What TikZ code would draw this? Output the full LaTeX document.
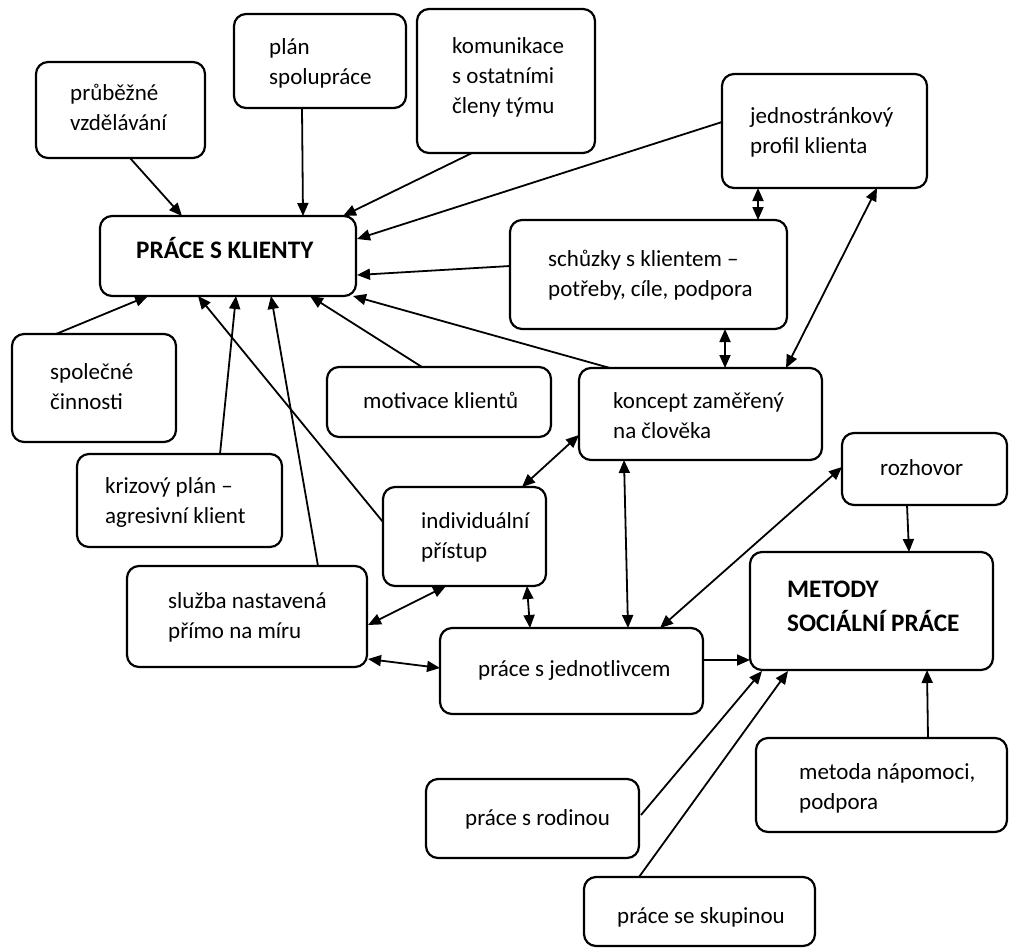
\documentclass[tikz,border=0pt]{standalone}
\usepackage{fontspec}
\setmainfont{Carlito}
\usetikzlibrary{arrows.meta,calc}
\newcommand{\mylines}[1]{\begin{tabular}[t]{@{}l@{}}#1\end{tabular}}
\begin{document}
\begin{tikzpicture}[x=1pt,y=-1pt,
  box/.style n args={2}{draw, line width=2.2pt, rounded corners=12pt, anchor=north west,
     minimum width=#1, minimum height=#2, inner sep=0pt, outer sep=0pt},
  txt/.style={anchor=base west, inner sep=0pt, font=\fontsize{23}{30}\selectfont},
  btxt/.style={anchor=base west, inner sep=0pt, font=\fontsize{25.2}{34}\selectfont\bfseries},
  arr/.style={line width=1.8pt, -{Triangle[length=13pt,width=11pt]}},
  darr/.style={line width=1.8pt, {Triangle[length=13pt,width=11pt]}-{Triangle[length=13pt,width=11pt]}}]
\fill[white] (0,0) rectangle (1011,951);
\useasboundingbox (0,0) rectangle (1011,951);

% boxes
\node[box={169pt}{96pt}]  (pv)  at (36,62) {};
\node[box={172pt}{94pt}]  (ps)  at (234,14) {};
\node[box={178pt}{144pt}] (ko)  at (417,9) {};
\node[box={256pt}{80pt}]  (pk)  at (100,216) {};
\node[box={205pt}{114pt}] (jp)  at (722,74) {};
\node[box={277pt}{109pt}] (sch) at (510,220) {};
\node[box={243pt}{92pt}]  (kc)  at (579,368) {};
\node[box={165pt}{72pt}]  (rz)  at (842,433) {};
\node[box={164pt}{108pt}] (sc)  at (12,334) {};
\node[box={224pt}{70pt}]  (mk)  at (327,367) {};
\node[box={205pt}{93pt}]  (kp)  at (77,454) {};
\node[box={163pt}{99pt}]  (ip)  at (383,487) {};
\node[box={240pt}{101pt}] (sl)  at (127,566) {};
\node[box={263pt}{86pt}]  (pj)  at (440,628) {};
\node[box={243pt}{118pt}] (me)  at (750,552) {};
\node[box={251pt}{94pt}]  (mn)  at (756,738) {};
\node[box={213pt}{79pt}]  (rd)  at (426,779) {};
\node[box={231pt}{69pt}]  (sk)  at (584,877) {};

% texts
\node[txt] (pvt)  at (70,100)  {\mylines{průběžné\\vzdělávání}};
\node[txt] (pst)  at (269,54)  {\mylines{plán\\spolupráce}};
\node[txt] (kot)  at (452,53)  {\mylines{komunikace\\s ostatními\\členy týmu}};
\node[btxt] (pkt) at (136,258) {PRÁCE S KLIENTY};
\node[txt] (jpt)  at (750,123) {\mylines{jednostránkový\\profil klienta}};
\node[txt] (scht) at (548,266) {\mylines{schůzky s klientem –\\potřeby, cíle, podpora}};
\node[txt] (kct)  at (613,408) {\mylines{koncept zaměřený\\na člověka}};
\node[txt] (rzt)  at (880,475) {rozhovor};
\node[txt] (sct)  at (50,379)  {\mylines{společné\\činnosti}};
\node[txt] (mkt)  at (363,408) {motivace klientů};
\node[txt] (kpt)  at (105,493) {\mylines{krizový plán –\\agresivní klient}};
\node[txt] (ipt)  at (421,528) {\mylines{individuální\\přístup}};
\node[txt] (slt)  at (168,608) {\mylines{služba nastavená\\přímo na míru}};
\node[txt] (pjt)  at (478,676) {práce s jednotlivcem};
\node[btxt] (met) at (787,597) {\mylines{METODY\\SOCIÁLNÍ PRÁCE}};
\node[txt] (mnt)  at (799,779) {\mylines{metoda nápomoci,\\podpora}};
\node[txt] (rdt)  at (465,825) {práce s rodinou};
\node[txt] (skt)  at (617,923) {práce se skupinou};

% connectors to PRACE S KLIENTY
\draw[arr] ($(pv.south west)+(94,0)$) -- ($(pk.north west)+(82,0)$);
\draw[arr] ($(ps.south west)+(68,0)$) -- ($(pk.north west)+(203,0)$);
\draw[arr] ($(ko.south west)+(55,0)$) -- ($(pk.north west)+(243,0)$);
\draw[arr] ($(jp.north west)+(0,48)$) -- ($(pk.north east)+(1,23)$);
\draw[arr] ($(sch.north west)+(0,46)$) -- ($(pk.north east)+(1,59)$);
\draw[arr] ($(kc.north west)+(31,0)$) -- ($(pk.south east)+(-3,0)$);
\draw[arr] ($(sc.north west)+(44,0)$) -- ($(pk.south west)+(48,0)$);
\draw[arr] ($(ip.north west)+(0,35)$) -- ($(pk.south west)+(98,0)$);
\draw[arr] ($(kp.north west)+(143,0)$) -- ($(pk.south west)+(136,0)$);
\draw[arr] ($(sl.north west)+(191,0)$) -- ($(pk.south west)+(171,0)$);
\draw[arr] ($(mk.north west)+(95,0)$) -- ($(pk.south west)+(210,0)$);

% double connectors
\draw[darr] ($(jp.south west)+(36,0)$) -- ($(sch.north west)+(248,0)$);
\draw[darr] ($(jp.south west)+(155,0)$) -- ($(kc.north west)+(207,0)$);
\draw[darr] ($(sch.south west)+(215,0)$) -- ($(kc.north west)+(146,0)$);
\draw[darr] ($(kc.north west)+(0,67)$) -- ($(ip.north east)+(-24,0)$);
\draw[darr] ($(kc.south west)+(45,0)$) -- ($(pj.north west)+(188,0)$);
\draw[darr] ($(rz.north west)+(0,34)$) -- ($(pj.north west)+(220,0)$);
\draw[darr] ($(ip.south west)+(63,0)$) -- ($(sl.north east)+(1,59)$);
\draw[darr] ($(ip.south west)+(144,0)$) -- ($(pj.north west)+(90,0)$);
\draw[darr] ($(sl.north east)+(1,93)$) -- ($(pj.north west)+(0,40)$);

% connectors to METODY
\draw[arr] ($(pj.north east)+(0,32)$) -- ($(me.north west)+(0,108)$);
\draw[arr] ($(rz.south west)+(65,0)$) -- ($(me.north west)+(159,0)$);
\draw[arr] ($(rd.north east)+(2,36)$) -- ($(me.south west)+(12,1)$);
\draw[arr] ($(sk.north west)+(55,0)$) -- ($(me.south west)+(38,1)$);
\draw[arr] ($(mn.north west)+(172,0)$) -- ($(me.south west)+(177,0)$);
\end{tikzpicture}
\end{document}
